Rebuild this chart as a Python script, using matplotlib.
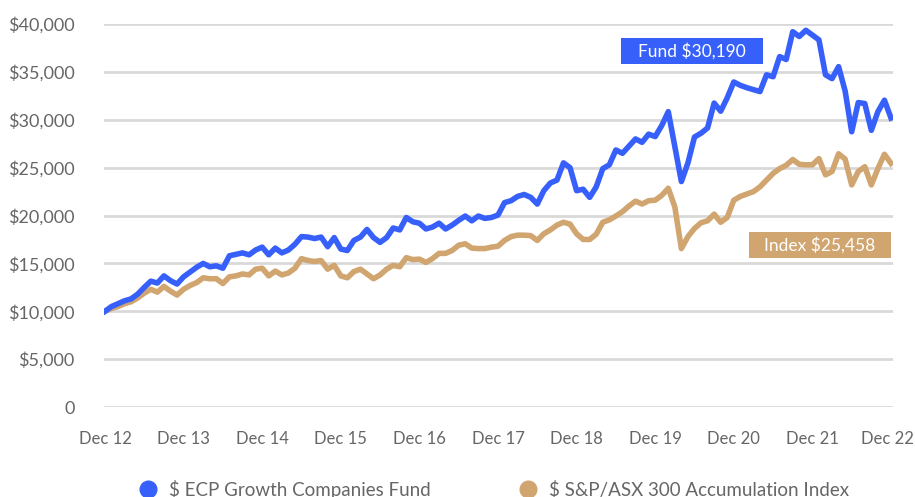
import matplotlib.pyplot as plt
from matplotlib.lines import Line2D
from matplotlib.patches import Rectangle
from matplotlib.ticker import FuncFormatter

# monthly growth of $10,000, Dec 12 .. Dec 22 (121 points)
fund = [
    10000, 10500, 10800, 11100, 11300, 11800, 12500, 13150, 12950, 13700, 13200, 12850,
    13600, 14100, 14600, 15000, 14650, 14750, 14500, 15800, 15950, 16100, 15900, 16400,
    16700, 15900, 16600, 16100, 16400, 17000, 17800, 17750, 17600, 17750, 16750, 17700,
    16500, 16350, 17400, 17750, 18550, 17700, 17200, 17700, 18700, 18500, 19800, 19350,
    19200, 18600, 18800, 19200, 18600, 19000, 19500, 19950, 19450, 19950, 19700, 19800,
    20050, 21350, 21550, 22000, 22200, 21900, 21200, 22600, 23400, 23700, 25500, 25000,
    22600, 22750, 21900, 23000, 24900, 25300, 26850, 26500, 27250, 28000, 27650, 28500,
    28250, 29400, 30850, 27200, 23550, 25500, 28200, 28600, 29150, 31750, 30900, 32300,
    33950, 33600, 33350, 33150, 32950, 34700, 34500, 36600, 36300, 39200, 38700, 39350,
    38850, 38350, 34700, 34300, 35550, 33000, 28750, 31800, 31700, 28900, 30850, 32050,
    30190,
]
index = [
    10000, 10300, 10500, 10800, 11000, 11400, 11900, 12300, 12000, 12600, 12100, 11700,
    12300, 12700, 13000, 13500, 13400, 13400, 12900, 13600, 13700, 13900, 13800, 14400,
    14500, 13700, 14200, 13800, 14000, 14500, 15500, 15300, 15200, 15300, 14400, 14800,
    13700, 13500, 14150, 14400, 13900, 13400, 13800, 14400, 14800, 14650, 15600, 15400,
    15450, 15100, 15500, 16050, 16050, 16350, 16900, 17050, 16600, 16550, 16550, 16700,
    16800, 17400, 17800, 17950, 17950, 17900, 17400, 18100, 18500, 19000, 19300, 19100,
    18100, 17500, 17500, 18050, 19300, 19550, 19950, 20400, 21000, 21500, 21200, 21550,
    21600, 22100, 22850, 20900, 16550, 17800, 18650, 19250, 19450, 20150, 19300, 19800,
    21600, 22000, 22250, 22500, 23000, 23700, 24400, 24900, 25250, 25850, 25350, 25300,
    25300, 25950, 24250, 24600, 26450, 25900, 23200, 24600, 25100, 23200, 24900, 26400,
    25458,
]
tick_labels = ['Dec 12', 'Dec 13', 'Dec 14', 'Dec 15', 'Dec 16', 'Dec 17',
               'Dec 18', 'Dec 19', 'Dec 20', 'Dec 21', 'Dec 22']
y_ticks = [0, 5000, 10000, 15000, 20000, 25000, 30000, 35000, 40000]
series_names = ['$ ECP Growth Companies Fund', '$ S&P/ASX 300 Accumulation Index']
end_labels = ['Fund $30,190', 'Index $25,458']

BLUE = '#3760fb'
TAN = '#d1a56f'
GREY = '#666666'
W, H = 915, 497

plt.rcParams['font.family'] = ['Lato', 'DejaVu Sans']

fig = plt.figure(figsize=(W / 100, H / 100), dpi=100)
ax = fig.add_axes([0.1133, 0.181, 0.8626, 0.7706])

months = list(range(len(fund)))
ax.plot(months, index, color=TAN, lw=4.0, solid_joinstyle='round', zorder=3)
ax.plot(months, fund, color=BLUE, lw=4.0, solid_joinstyle='round', zorder=4)

ax.set_xlim(-0.2, 120.3)
ax.set_ylim(0, 40000)
ax.set_yticks(y_ticks)
ax.yaxis.set_major_formatter(FuncFormatter(lambda v, p: '0' if v == 0 else '${:,.0f}'.format(v)))
# last tick nudged a touch left so "Dec 22" stays inside the figure
xt = list(range(0, 120, 12)) + [119.5]
ax.set_xticks(xt)
ax.set_xticklabels(tick_labels)

ax.grid(axis='y', color='#d9d9d9', lw=2)
ax.set_axisbelow(True)
for s in ax.spines.values():
    s.set_visible(False)
ax.tick_params(axis='both', length=0, colors=GREY)
ax.tick_params(axis='y', pad=21, labelsize=13)
ax.tick_params(axis='x', pad=17, labelsize=12)


# end value boxes, drawn in figure pixels
def end_box(x0, y0, w, h, color, label):
    fig.patches.append(Rectangle((x0 / W, 1 - (y0 + h) / H), w / W, h / H,
                                 transform=fig.transFigure, fc=color, ec='none', zorder=5))
    fig.text((x0 + w / 2) / W, 1 - (y0 + h / 2) / H, label, color='white',
             fontsize=12.5, ha='center', va='center', zorder=6)


end_box(621, 38, 142, 26, BLUE, end_labels[0])
end_box(749, 232, 142, 26, TAN, end_labels[1])

handles = [Line2D([], [], ls='none', marker='o', ms=12, color=c) for c in (BLUE, TAN)]
leg = fig.legend(handles, series_names, loc='center', bbox_to_anchor=(0.54, 0.016),
                 ncol=2, frameon=False, handlelength=1.0, handletextpad=0.6,
                 columnspacing=4.7, prop={'size': 13.5})
for t in leg.get_texts():
    t.set_color(GREY)

fig.savefig('out.png', dpi=100)
